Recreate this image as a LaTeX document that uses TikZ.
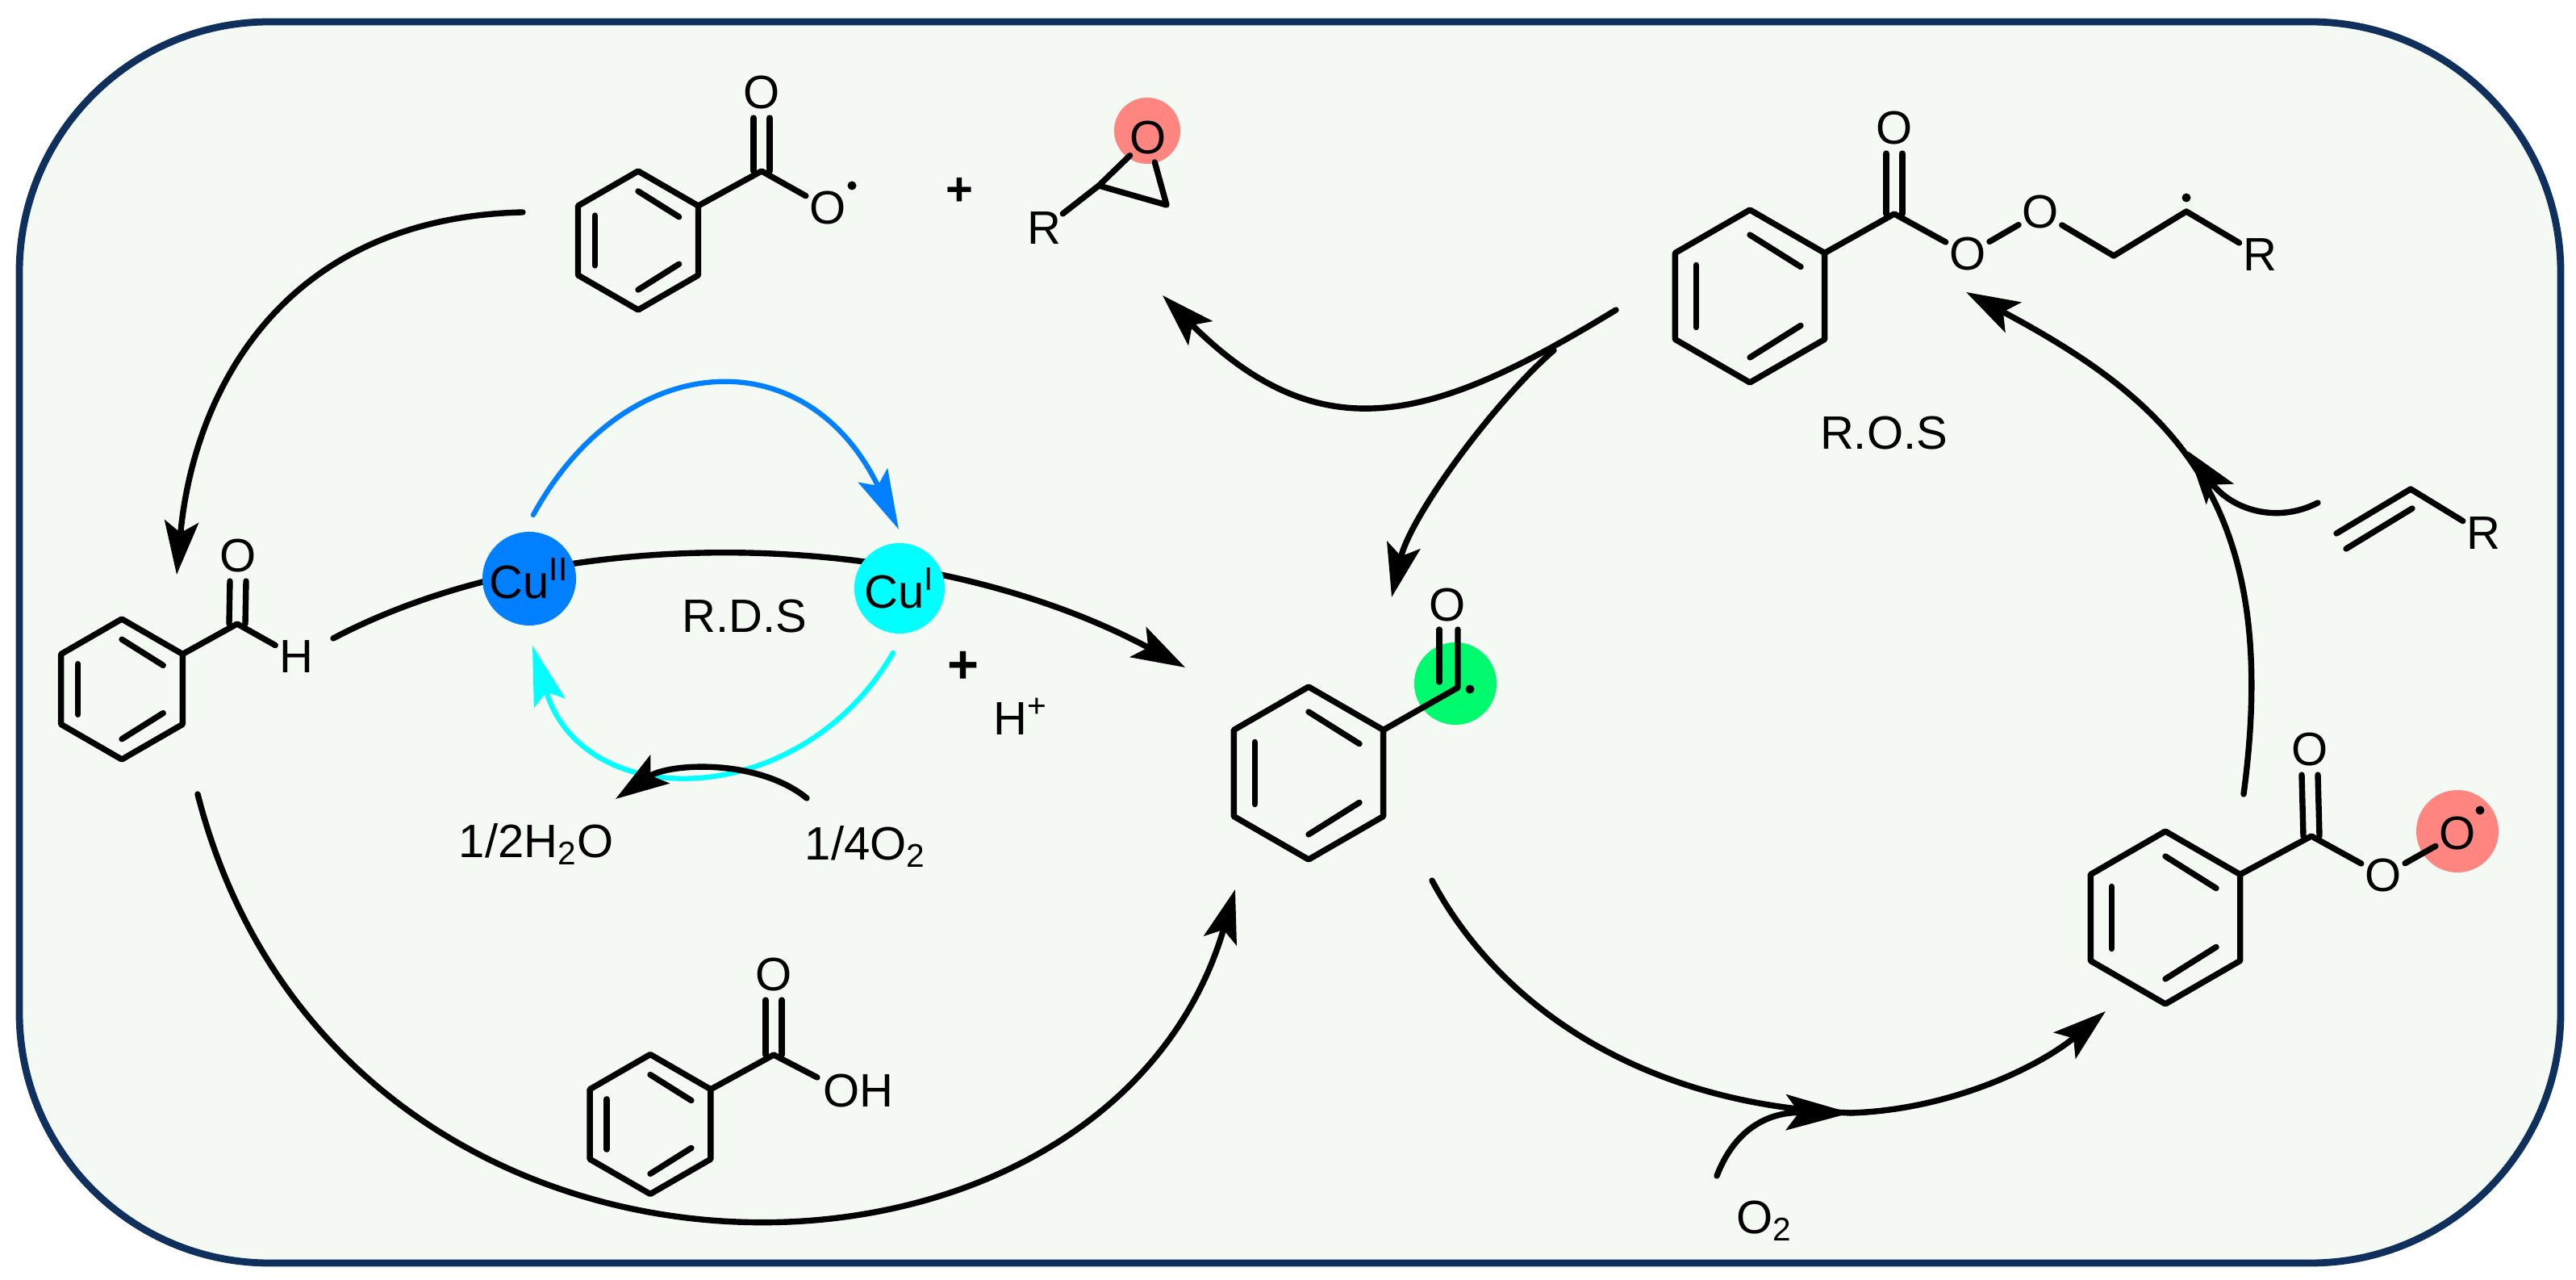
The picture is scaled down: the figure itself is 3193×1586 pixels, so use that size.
\documentclass[tikz,border=0pt]{standalone}
\usepackage{fontspec}
\setmainfont{Liberation Sans}
\usetikzlibrary{arrows.meta}
\definecolor{panelfill}{HTML}{F4F9F3}
\definecolor{panelline}{HTML}{0F2F5C}
\definecolor{cutwo}{HTML}{0080FF}
\definecolor{cuone}{HTML}{00FFFF}
\definecolor{radred}{HTML}{FF8680}
\definecolor{radgreen}{HTML}{00FA6E}
\newcommand{\atomfont}{\fontsize{16.5}{18}\selectfont}
\tikzset{
  bond/.style={line width=2.1pt,line cap=round,line join=round},
  atom/.style={circle,inner sep=0pt,font=\atomfont},
  radical/.style={circle,fill=black,inner sep=0pt,minimum size=1.1mm},
  glow/.style={circle,inner sep=0pt},
  rxn/.style={line width=2.1pt,line cap=round,-{Stealth[length=6.6mm,width=4.2mm,inset=1.4mm]}},
  curxn/.style={rxn,line width=1.8pt,-{Stealth[length=7.4mm,width=4mm,inset=1.4mm]}}
}
\newcommand{\benzring}[4]{%
  \begin{scope}[shift={(#2,#3)}]
    \coordinate (#1) at (0,0);
    \coordinate (#1v) at (330:#4);
    \draw[bond] (30:#4) -- (90:#4) -- (150:#4) -- (210:#4) -- (270:#4) -- (330:#4) -- cycle;
    \draw[bond] (270:.71*#4) -- (330:.68*#4);
    \draw[bond] (150:.72*#4) -- (210:.72*#4);
    \draw[bond] (90:.71*#4) -- (30:.68*#4);
  \end{scope}}
\newcommand{\carbonyl}[2]{%
  \draw[bond] ([xshift=-1mm]#1) -- ([xshift=-1mm]#2.south);
  \draw[bond] ([xshift=1mm]#1) -- ([xshift=1mm]#2.south);}
\begin{document}
\begin{tikzpicture}[x=0.01cm,y=-0.01cm]
    \useasboundingbox (0,0) rectangle (3193,1586);
    \draw[panelline,fill=panelfill,line width=2.5pt,rounded corners=3.1cm] (24,27) rectangle (3174,1565);

    % radical highlights
    \node[glow,fill=radred,minimum size=8.2mm] (glowepox) at (1422,162) {};
    \node[glow,fill=radgreen,minimum size=10.2mm] (glowbenzoyl) at (1804,847) {};
    \node[glow,fill=radred,minimum size=10.2mm] (glowperoxy) at (3046,1030) {};

    % benzoyloxy radical + epoxide
    \benzring{ringA}{791}{298}{86}
    \coordinate (cA) at (944,212);
    \node[atom] (oAtop) at (944,115) {O};
    \node[atom] (oAright) at (1026,258) {O};
    \node[radical] (dotA) at (1056,230) {};
    \draw[bond] (ringAv) -- (cA) -- (oAright);
    \carbonyl{cA}{oAtop}
    \node[atom,font=\atomfont\bfseries] (plusA) at (1189,237) {+};
    \node[atom] (rEpox) at (1294,283) {R};
    \node[atom] (oEpox) at (1423,171) {O};
    \coordinate (cEpoxA) at (1362,230);
    \coordinate (cEpoxB) at (1446,254);
    \draw[bond] (rEpox) -- (cEpoxA) -- (oEpox);
    \draw[bond] (oEpox) -- (cEpoxB) -- (cEpoxA);

    % peroxy ester radical
    \benzring{ringB}{2169}{367}{107}
    \coordinate (cB) at (2348,265);
    \node[atom] (oBtop) at (2348,159) {O};
    \node[atom] (oBa) at (2439,315) {O};
    \node[atom] (oBb) at (2529,263) {O};
    \coordinate (cBa) at (2620,317);
    \coordinate (cBb) at (2710,262);
    \node[atom] (rB) at (2801,316) {R};
    \node[radical] (dotB) at (2710,245) {};
    \draw[bond] (ringBv) -- (cB) -- (oBa) -- (oBb) -- (cBa) -- (cBb) -- (rB);
    \carbonyl{cB}{oBtop}
    \node[atom] (rosl) at (2335,537) {R.O.S};

    % benzaldehyde
    \benzring{ringC}{151}{854}{87}
    \coordinate (cC) at (294,773);
    \node[atom] (oCtop) at (295,689) {O};
    \node[atom] (hC) at (367,814) {H};
    \draw[bond] (ringCv) -- (cC) -- (hC);
    \carbonyl{cC}{oCtop}

    % benzoyl radical
    \benzring{ringD}{1622}{958}{107}
    \coordinate (cD) at (1807,852);
    \coordinate (cDtop) at (1807,780);
    \coordinate (cDin) at (1784,845);
    \coordinate (cDintop) at (1784,780);
    \node[atom] (oDtop) at (1794,750) {O};
    \node[radical] (dotD) at (1822,854) {};
    \draw[bond] (ringDv) -- (cD) -- (cDtop);
    \draw[bond] (cDin) -- (cDintop);

    % benzoylperoxy radical
    \benzring{ringE}{2684}{1137}{107}
    \coordinate (cE) at (2865,1036);
    \node[atom] (oEtop) at (2863,929) {O};
    \node[atom] (oEa) at (2954,1085) {O};
    \node[atom] (oEb) at (3046,1033) {O};
    \node[radical] (dotE) at (3074,1004) {};
    \draw[bond] (ringEv) -- (cE) -- (oEa) -- (oEb);
    \carbonyl{cE}{oEtop}

    % benzoic acid
    \benzring{ringF}{806}{1393}{86.5}
    \coordinate (cF) at (959,1307);
    \coordinate (cFend) at (1013,1335);
    \node[atom] (oFtop) at (959,1208) {O};
    \node[atom] (ohF) at (1064,1352) {OH};
    \draw[bond] (ringFv) -- (cF) -- (cFend);
    \carbonyl{cF}{oFtop}

    % alkene
    \coordinate (vinA) at (2896,661);
    \coordinate (vinB) at (2988,606);
    \coordinate (vinC) at (2908,680);
    \coordinate (vinD) at (2990,630);
    \node[atom] (rVin) at (3078,661) {R};
    \draw[bond] (vinA) -- (vinB) -- (rVin);
    \draw[bond] (vinC) -- (vinD);

    % main arrows
    \coordinate (startA) at (648,263);
    \coordinate (tipC) at (219,712);
    \draw[rxn] (startA) .. controls (350,270) and (240,485) .. (tipC);
    \coordinate (startH) at (413,791);
    \coordinate (tipDa) at (1469,827);
    \draw[rxn] (startH) .. controls (700,640) and (1150,655) .. (tipDa);
    \coordinate (startC) at (245,984);
    \coordinate (tipDb) at (1531,1102);
    \draw[rxn] (startC) .. controls (420,1668) and (1370,1655) .. (tipDb);
    \coordinate (startB) at (2003,384);
    \coordinate (tipEpox) at (1441,366);
    \draw[rxn] (startB) .. controls (1780,520) and (1640,565) .. (tipEpox);
    \coordinate (startBr) at (1926,434);
    \coordinate (tipDc) at (1725,740);
    \draw[rxn] (startBr) .. controls (1850,500) and (1748,640) .. (tipDc);
    \coordinate (startD) at (1775,1091);
    \coordinate (midO) at (2294,1379);
    \coordinate (tipE) at (2610,1253);
    \draw[rxn,-] (startD) .. controls (1860,1250) and (2040,1370) .. (midO);
    \draw[rxn] (midO) .. controls (2420,1375) and (2530,1320) .. (tipE);
    \coordinate (startO) at (2128,1457);
    \draw[rxn,-{Stealth[length=8mm,width=4.4mm,inset=1.6mm]}] (startO) .. controls (2150,1400) and (2190,1378) .. (midO);
    \node[atom] (otwo) at (2187,1513) {O\textsubscript{2}};
    \coordinate (startE) at (2781,984);
    \coordinate (tipB) at (2437,362);
    \draw[rxn] (startE) .. controls (2830,620) and (2690,497) .. (tipB);
    \coordinate (startVin) at (2873,623);
    \coordinate (tipVin) at (2712,559);
    \draw[rxn] (startVin) .. controls (2820,650) and (2765,630) .. (tipVin);

    % copper cycle
    \node[glow,fill=cutwo,minimum size=11.6mm,font=\atomfont] (cuII) at (656,717) {Cu\textsuperscript{II}};
    \node[glow,fill=cuone,minimum size=11.2mm,font=\atomfont] (cuI) at (1115,729) {Cu\textsuperscript{I}};
    \node[atom] (rdsl) at (923,764) {R.D.S};
    \coordinate (blueS) at (661,638);
    \coordinate (blueE) at (1114,656);
    \coordinate (cyanS) at (1107,809);
    \coordinate (cyanE) at (660,800);
    \draw[curxn,cutwo] (blueS) .. controls (775,430) and (1000,418) .. (blueE);
    \draw[curxn,cuone] (cyanS) .. controls (992,1006) and (723,1010) .. (cyanE);
    \coordinate (smallS) at (1000,989);
    \coordinate (smallE) at (763,990);
    \draw[rxn] (smallS) .. controls (940,940) and (830,945) .. (smallE);
    \node[atom,font=\fontsize{19}{20}\selectfont\bfseries] (plusH) at (1194,827) {+};
    \node[atom] (hplus) at (1265,888) {H\textsuperscript{+}};
    \node[atom] (water) at (665,1046) {1/2H\textsubscript{2}O};
    \node[atom] (oxy) at (1073,1049) {1/4O\textsubscript{2}};
\end{tikzpicture}
\end{document}
